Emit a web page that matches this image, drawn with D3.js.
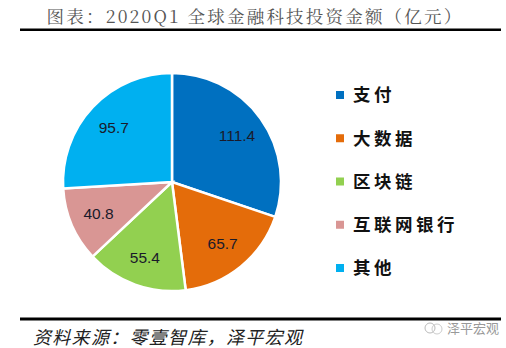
<!DOCTYPE html>
<html><head><meta charset="utf-8">
<script src="https://cdn.jsdelivr.net/npm/d3@7"></script>
<style>body{margin:0;background:#fff}svg{display:block}</style>
</head><body>
<svg id="c" width="506" height="348"></svg>
<script>
const categories = ["支付","大数据","区块链","互联网银行","其他"];
const values = [111.4, 65.7, 55.4, 40.8, 95.7];
const colors = ["#0070C0","#E46C0A","#92D050","#D99694","#00B0F0"];

const svg = d3.select("#c");

svg.append("text").attr("x", 255).attr("y", 23).attr("text-anchor","middle")
  .attr("font-family","'Noto Serif CJK SC','AR PL UMing CN','Noto Sans CJK SC',serif")
  .attr("font-size",17.5).attr("letter-spacing",2.2).attr("fill","#555").text("图表：2020Q1 全球金融科技投资金额（亿元）");
svg.append("rect").attr("x",20).attr("y",28.5).attr("width",481).attr("height",2.5).attr("fill","#000");

const cx = 172, cy = 182, R = 109;
const g = svg.append("g").attr("transform",`translate(${cx},${cy})`);
const pie = d3.pie().sort(null).value(d=>d)(values);
const arc = d3.arc().innerRadius(0).outerRadius(R);
const labelArc = d3.arc().innerRadius(80).outerRadius(80);
g.selectAll("path").data(pie).join("path")
  .attr("d",arc).attr("fill",(d,i)=>colors[i]).attr("stroke","#fff").attr("stroke-width",2.5);
g.selectAll("text").data(pie).join("text")
  .attr("transform",d=>`translate(${labelArc.centroid(d)})`)
  .attr("text-anchor","middle").attr("dy","0.35em")
  .attr("font-family","'Liberation Sans','DejaVu Sans',sans-serif").attr("font-size",15.5)
  .attr("fill","#1a1a2a").text(d=>d.data.toFixed(1));

const ly = d3.scalePoint().domain(categories).range([95,268]);
const lg = svg.append("g");
categories.forEach((c,i)=>{
  lg.append("rect").attr("x",336).attr("y",ly(c)-4).attr("width",8).attr("height",8).attr("fill",colors[i]);
  lg.append("text").attr("x",353).attr("y",ly(c)).attr("dy","0.36em")
    .attr("font-family","'Noto Sans CJK SC',sans-serif").attr("font-weight","bold")
    .attr("font-size",17.5).attr("letter-spacing",3.5).attr("fill","#111").text(c);
});

svg.append("rect").attr("x",20).attr("y",317.5).attr("width",481).attr("height",3).attr("fill","#000");
svg.append("text").attr("x",33).attr("y",344)
  .attr("font-family","'Noto Sans CJK SC',sans-serif").attr("font-style","italic")
  .attr("font-size",18).attr("letter-spacing",1.3).attr("fill","#222")
  .text("资料来源：零壹智库，泽平宏观");
// watermark
const wm = svg.append("g").attr("transform","translate(430,328)");
wm.append("circle").attr("cx",0).attr("cy",0).attr("r",5).attr("fill","none").attr("stroke","#bbb");
wm.append("circle").attr("cx",7).attr("cy",1).attr("r",5).attr("fill","none").attr("stroke","#ccc");
wm.append("text").attr("x",17).attr("y",5).attr("font-family","'Noto Sans CJK SC',sans-serif")
  .attr("font-size",13).attr("fill","#999").text("泽平宏观");
</script>
</body></html>
